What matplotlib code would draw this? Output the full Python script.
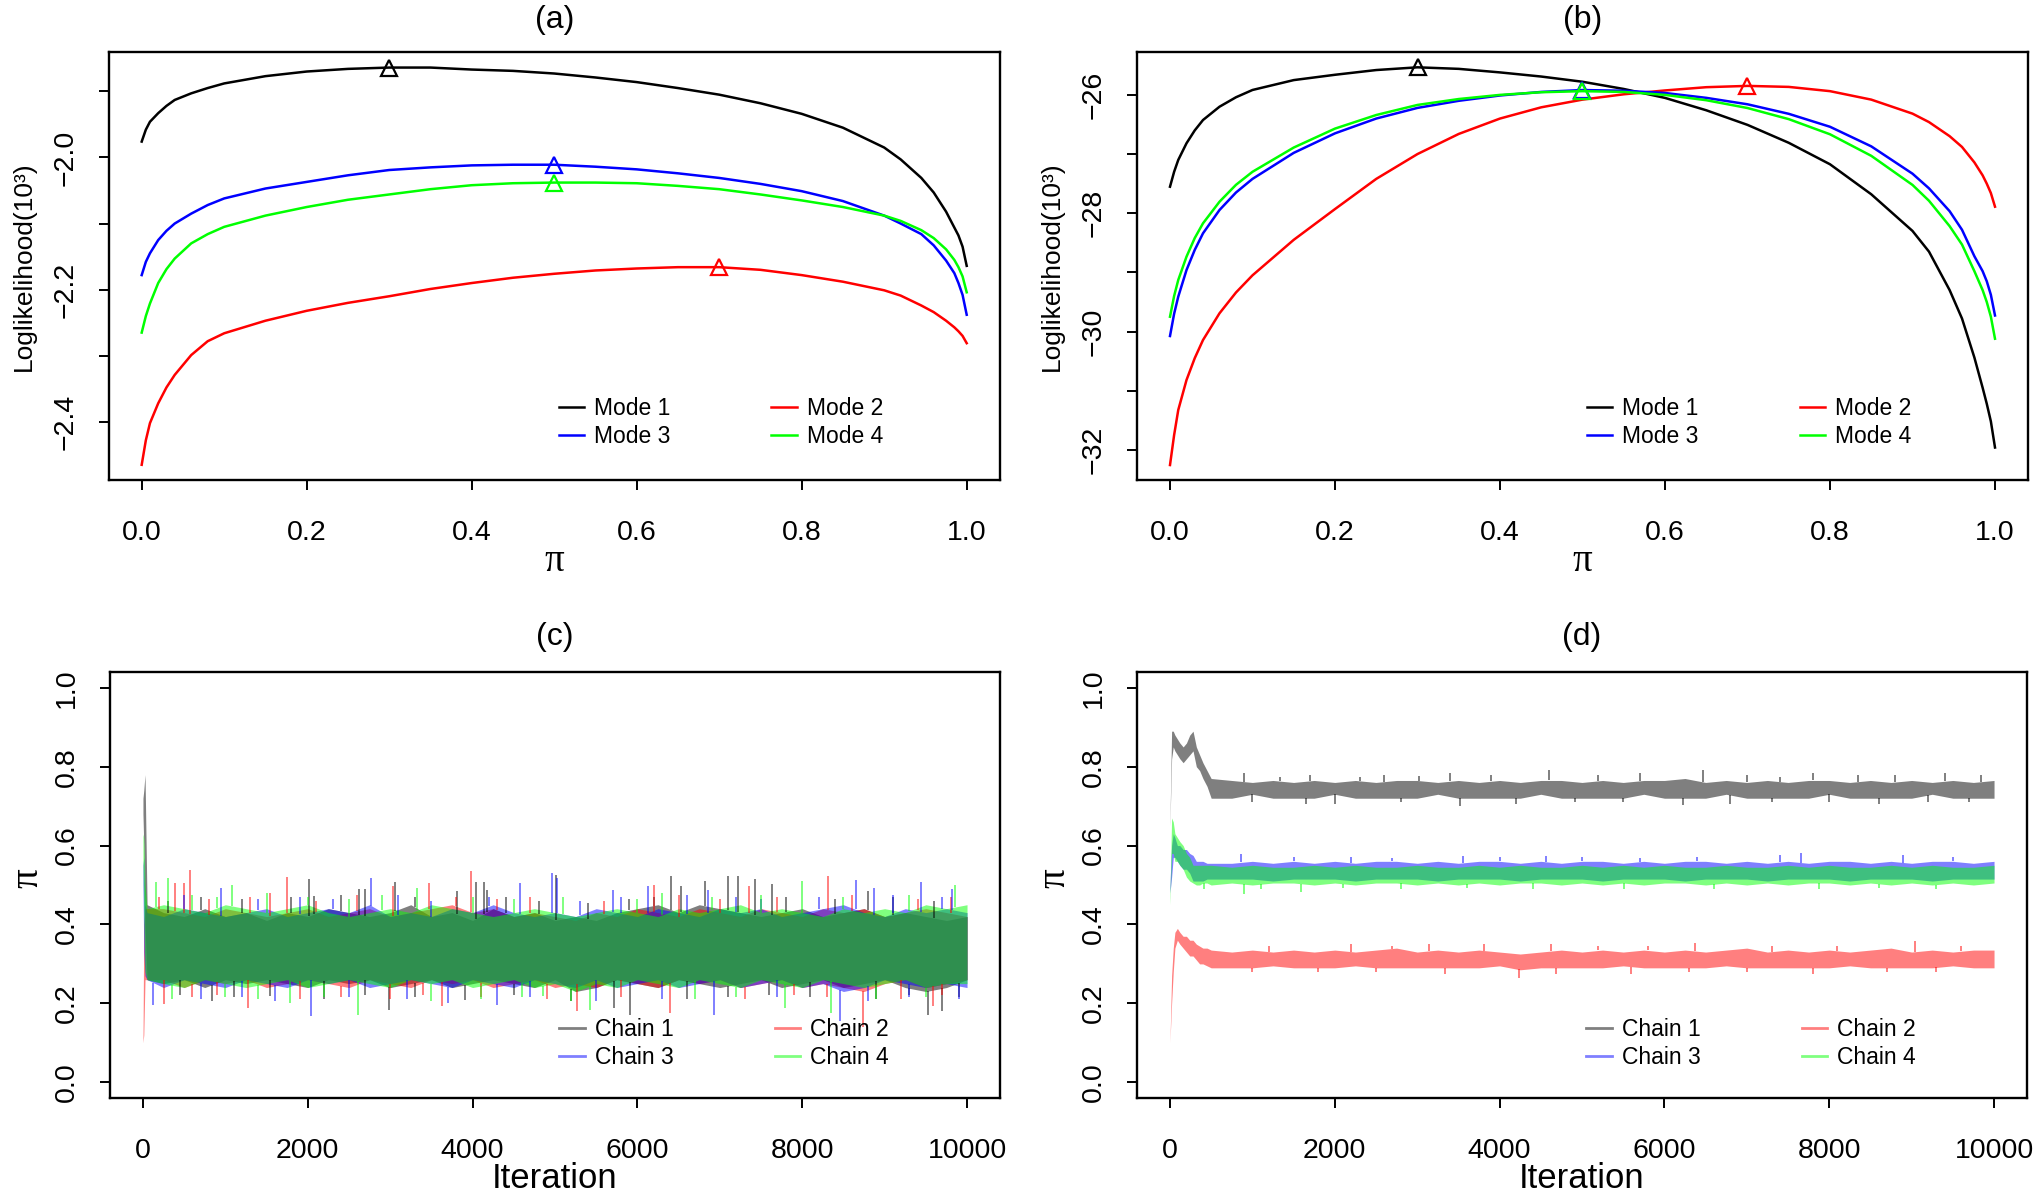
import numpy as np
import matplotlib
matplotlib.use('Agg')
import matplotlib.pyplot as plt
from matplotlib.lines import Line2D

plt.rcParams['font.family'] = ['Liberation Sans', 'DejaVu Sans']

# ---------------- (a) / (b): loglikelihood profiles (x 10^3) ----------------
pi_grid = [0.0, 0.005, 0.01, 0.02, 0.03, 0.04, 0.06, 0.08, 0.1, 0.15, 0.2,
           0.25, 0.3, 0.35, 0.4, 0.45, 0.5, 0.55, 0.6, 0.65, 0.7, 0.75,
           0.8, 0.85, 0.9, 0.92, 0.945, 0.96, 0.975, 0.985, 0.99, 0.995, 1.0]

a_mode1 = [-1.976, -1.958, -1.946, -1.933, -1.922, -1.913, -1.903, -1.895, -1.888, -1.877, -1.870,
           -1.866, -1.864, -1.864, -1.867, -1.869, -1.873, -1.879, -1.886, -1.895, -1.905, -1.918,
           -1.934, -1.955, -1.985, -2.003, -2.031, -2.053, -2.082, -2.106, -2.118, -2.135, -2.164]
a_mode2 = [-2.465, -2.428, -2.402, -2.372, -2.348, -2.329, -2.299, -2.278, -2.266, -2.247, -2.232,
           -2.220, -2.210, -2.199, -2.190, -2.182, -2.176, -2.171, -2.168, -2.166, -2.166, -2.170,
           -2.178, -2.188, -2.201, -2.209, -2.224, -2.234, -2.247, -2.257, -2.263, -2.270, -2.281]
a_mode3 = [-2.178, -2.158, -2.145, -2.125, -2.111, -2.100, -2.085, -2.072, -2.062, -2.047, -2.037,
           -2.027, -2.019, -2.015, -2.012, -2.011, -2.011, -2.014, -2.018, -2.024, -2.031, -2.040,
           -2.051, -2.066, -2.088, -2.100, -2.116, -2.133, -2.156, -2.175, -2.190, -2.208, -2.238]
a_mode4 = [-2.265, -2.240, -2.221, -2.190, -2.169, -2.153, -2.130, -2.116, -2.105, -2.088, -2.075,
           -2.064, -2.056, -2.048, -2.042, -2.039, -2.038, -2.038, -2.039, -2.043, -2.048, -2.056,
           -2.065, -2.075, -2.088, -2.096, -2.110, -2.122, -2.139, -2.155, -2.166, -2.180, -2.204]

b_mode1 = [-27.552, -27.30, -27.100, -26.818, -26.60, -26.425, -26.200, -26.04, -25.917, -25.75, -25.660,
           -25.58, -25.534, -25.56, -25.620, -25.69, -25.778, -25.90, -26.051, -26.26, -26.507, -26.81,
           -27.173, -27.68, -28.300, -28.65, -29.300, -29.78, -30.439, -30.95, -31.22, -31.52, -31.961]
b_mode2 = [-32.257, -31.75, -31.327, -30.820, -30.45, -30.144, -29.692, -29.34, -29.05, -28.45, -27.93,
           -27.42, -27.00, -26.66, -26.40, -26.21, -26.08, -25.99, -25.925, -25.87, -25.848, -25.865,
           -25.937, -26.08, -26.317, -26.46, -26.698, -26.88, -27.141, -27.36, -27.50, -27.66, -27.890]
b_mode3 = [-30.076, -29.70, -29.411, -28.961, -28.62, -28.340, -27.946, -27.65, -27.42, -26.98, -26.65,
           -26.40, -26.22, -26.10, -26.01, -25.95, -25.918, -25.93, -25.968, -26.05, -26.159, -26.32,
           -26.539, -26.87, -27.332, -27.58, -27.966, -28.28, -28.727, -28.98, -29.15, -29.38, -29.729]
b_mode4 = [-29.750, -29.40, -29.129, -28.735, -28.42, -28.171, -27.806, -27.52, -27.30, -26.89, -26.57,
           -26.34, -26.17, -26.07, -26.00, -25.955, -25.937, -25.95, -26.000, -26.09, -26.222, -26.41,
           -26.666, -27.03, -27.522, -27.79, -28.219, -28.53, -28.980, -29.30, -29.50, -29.75, -30.122]

mode_peak = [0.3, 0.7, 0.5, 0.5]
mode_labels = ['Mode 1', 'Mode 2', 'Mode 3', 'Mode 4']
mode_cols = ['black', '#FF0000', '#0000FF', '#00FF00']

# ---------------- (c) / (d): MCMC traces, dense band low/high per chain ----------------
it_c = [0, 10, 25, 50] + list(range(250, 10001, 250))

c1_lo = [0.68, 0.60, 0.40, 0.26,
         0.25, 0.26, 0.24, 0.26, 0.25, 0.26, 0.25, 0.24, 0.26, 0.25,
         0.26, 0.24, 0.25, 0.26, 0.24, 0.25, 0.26, 0.25, 0.24, 0.26,
         0.23, 0.24, 0.26, 0.25, 0.24, 0.26, 0.25, 0.24, 0.25, 0.26,
         0.24, 0.25, 0.26, 0.24, 0.25, 0.26, 0.24, 0.23, 0.24, 0.26]
c1_hi = [0.72, 0.74, 0.78, 0.45,
         0.43, 0.42, 0.44, 0.42, 0.43, 0.41, 0.43, 0.42, 0.44, 0.43,
         0.42, 0.43, 0.45, 0.42, 0.43, 0.41, 0.44, 0.42, 0.43, 0.41,
         0.42, 0.41, 0.43, 0.44, 0.45, 0.43, 0.45, 0.44, 0.43, 0.42,
         0.43, 0.44, 0.42, 0.43, 0.44, 0.42, 0.43, 0.42, 0.41, 0.42]
c2_lo = [0.10, 0.12, 0.26, 0.26,
         0.26, 0.24, 0.26, 0.25, 0.26, 0.24, 0.25, 0.26, 0.25, 0.24,
         0.26, 0.25, 0.24, 0.26, 0.25, 0.26, 0.24, 0.25, 0.26, 0.24,
         0.25, 0.24, 0.26, 0.25, 0.24, 0.26, 0.25, 0.26, 0.24, 0.25,
         0.26, 0.24, 0.25, 0.24, 0.23, 0.25, 0.26, 0.24, 0.25, 0.26]
c2_hi = [0.10, 0.40, 0.44, 0.44,
         0.44, 0.43, 0.42, 0.44, 0.43, 0.42, 0.43, 0.44, 0.42, 0.43,
         0.44, 0.42, 0.43, 0.44, 0.45, 0.43, 0.44, 0.42, 0.43, 0.42,
         0.41, 0.43, 0.42, 0.44, 0.43, 0.42, 0.44, 0.43, 0.42, 0.44,
         0.43, 0.42, 0.44, 0.43, 0.44, 0.42, 0.43, 0.44, 0.43, 0.42]
c3_lo = [0.50, 0.33, 0.27, 0.26,
         0.24, 0.26, 0.25, 0.24, 0.26, 0.25, 0.24, 0.26, 0.25, 0.26,
         0.24, 0.25, 0.26, 0.25, 0.24, 0.26, 0.25, 0.24, 0.26, 0.25,
         0.24, 0.26, 0.24, 0.25, 0.26, 0.24, 0.25, 0.26, 0.24, 0.25,
         0.26, 0.24, 0.25, 0.23, 0.24, 0.26, 0.25, 0.24, 0.25, 0.24]
c3_hi = [0.55, 0.57, 0.45, 0.43,
         0.42, 0.44, 0.43, 0.42, 0.43, 0.44, 0.42, 0.43, 0.44, 0.43,
         0.45, 0.42, 0.43, 0.42, 0.44, 0.43, 0.45, 0.43, 0.42, 0.43,
         0.42, 0.44, 0.43, 0.42, 0.44, 0.43, 0.42, 0.44, 0.43, 0.44,
         0.42, 0.43, 0.44, 0.45, 0.43, 0.42, 0.44, 0.43, 0.44, 0.43]
c4_lo = [0.55, 0.42, 0.28, 0.26,
         0.25, 0.24, 0.26, 0.25, 0.24, 0.25, 0.26, 0.24, 0.25, 0.26,
         0.25, 0.24, 0.26, 0.25, 0.26, 0.24, 0.25, 0.26, 0.24, 0.25,
         0.23, 0.25, 0.24, 0.26, 0.25, 0.24, 0.26, 0.25, 0.24, 0.26,
         0.25, 0.24, 0.26, 0.25, 0.24, 0.25, 0.26, 0.24, 0.25, 0.25]
c4_hi = [0.63, 0.62, 0.50, 0.44,
         0.45, 0.44, 0.43, 0.45, 0.44, 0.43, 0.44, 0.45, 0.43, 0.42,
         0.43, 0.44, 0.43, 0.45, 0.44, 0.43, 0.42, 0.43, 0.44, 0.43,
         0.42, 0.43, 0.44, 0.43, 0.42, 0.44, 0.43, 0.44, 0.45, 0.43,
         0.44, 0.43, 0.42, 0.44, 0.43, 0.44, 0.43, 0.45, 0.44, 0.45]

# single-iteration excursions beyond the dense band (iteration, value), panel (c)
c1_spk_it = [2015, 2080, 2626, 2700, 3058, 3807, 4036, 4137, 4178, 5012, 6408, 6529, 6820,
             7096, 7217, 7427, 7630, 8795, 300, 700, 1200, 1800, 2400, 3300, 4400, 4800,
             5400, 5900, 6200, 7800, 8400, 9100, 9600,
             833, 1541, 2990, 3908, 5720, 5910, 9531, 9693, 450, 1100, 2200, 2700, 3300,
             4500, 5200, 6600, 7100, 7600, 8100, 8900, 9300, 9900]
c1_spk_v = [0.514, 0.473, 0.49, 0.49, 0.507, 0.484, 0.507, 0.507, 0.488, 0.526, 0.524, 0.497, 0.509,
            0.524, 0.524, 0.515, 0.503, 0.484, 0.46, 0.47, 0.465, 0.47, 0.475, 0.47, 0.47, 0.46,
            0.455, 0.465, 0.47, 0.47, 0.465, 0.47, 0.46,
            0.205, 0.218, 0.184, 0.209, 0.188, 0.171, 0.171, 0.180, 0.22, 0.215, 0.21, 0.22, 0.215,
            0.22, 0.205, 0.21, 0.215, 0.22, 0.215, 0.21, 0.22, 0.215]
c2_spk_it = [390, 500, 570, 1541, 1750, 3038, 3475, 3980, 6206, 7354, 8317, 200, 800, 1300,
             2100, 2600, 3800, 4300, 4700, 5600, 6500, 7000, 7700, 8600, 9400, 9800,
             259, 1270, 3625, 5263, 6396, 8742, 9590, 600, 900, 1900, 2400, 3000, 3400,
             4100, 4900, 5800, 7300, 7900, 8300, 9200, 9700]
c2_spk_v = [0.505, 0.505, 0.537, 0.48, 0.52, 0.497, 0.505, 0.535, 0.501, 0.497, 0.522, 0.47, 0.465, 0.47,
            0.46, 0.475, 0.47, 0.465, 0.47, 0.46, 0.475, 0.465, 0.47, 0.475, 0.465, 0.47,
            0.199, 0.188, 0.192, 0.180, 0.175, 0.141, 0.192, 0.215, 0.22, 0.21, 0.215, 0.21, 0.22,
            0.215, 0.21, 0.215, 0.21, 0.22, 0.215, 0.21, 0.22]
c3_spk_it = [943, 2767, 4574, 4958, 5020, 5708, 6125, 6853, 8649, 8876, 9438, 9822, 500, 1400,
             1900, 2300, 3100, 3500, 4200, 5300, 5800, 6600, 7200, 7500, 8200, 9100, 9700,
             126, 2039, 4291, 6934, 8458, 700, 1200, 1600, 2500, 3200, 3700, 4700, 5500,
             6300, 7700, 8800, 9300, 9900]
c3_spk_v = [0.493, 0.518, 0.505, 0.53, 0.518, 0.488, 0.497, 0.488, 0.512, 0.493, 0.507, 0.49, 0.475, 0.465,
            0.47, 0.465, 0.475, 0.46, 0.47, 0.46, 0.47, 0.475, 0.47, 0.465, 0.47, 0.475, 0.47,
            0.196, 0.167, 0.196, 0.171, 0.154, 0.21, 0.215, 0.205, 0.215, 0.21, 0.2, 0.215, 0.205,
            0.21, 0.215, 0.205, 0.215, 0.21]
c4_spk_it = [154, 307, 1076, 3320, 8002, 9855, 600, 900, 1500, 2000, 2500, 2900, 4000, 4500,
             5100, 6000, 6300, 6900, 7500, 8500, 9300,
             1784, 2605, 4859, 5425, 7791, 8350, 350, 1000, 1400, 2200, 3500, 4100, 4600,
             5200, 6700, 7200, 8900, 9500]
c4_spk_v = [0.507, 0.518, 0.501, 0.493, 0.509, 0.501, 0.475, 0.47, 0.48, 0.47, 0.465, 0.475, 0.47, 0.465,
            0.47, 0.465, 0.48, 0.47, 0.475, 0.47, 0.475,
            0.200, 0.171, 0.218, 0.184, 0.188, 0.175, 0.21, 0.215, 0.21, 0.215, 0.205, 0.21, 0.215,
            0.205, 0.21, 0.215, 0.21, 0.215]

it_d = [0, 20, 40, 60, 90, 120, 160, 200, 240, 280, 320, 360, 400, 450, 500] + list(range(750, 10001, 250))

d1_lo = [0.65, 0.82, 0.85, 0.84, 0.83, 0.82, 0.81, 0.82, 0.83, 0.84, 0.80, 0.79, 0.77, 0.75, 0.72,
         0.72, 0.73, 0.72, 0.72, 0.72, 0.73, 0.72, 0.72, 0.72, 0.72,
         0.73, 0.72, 0.72, 0.72, 0.72, 0.73, 0.72, 0.72, 0.72, 0.72,
         0.73, 0.72, 0.72, 0.72, 0.73, 0.72, 0.72, 0.72, 0.72, 0.73,
         0.72, 0.72, 0.72, 0.72, 0.73, 0.72, 0.72, 0.72]
d1_hi = [0.66, 0.89, 0.89, 0.88, 0.87, 0.86, 0.85, 0.86, 0.88, 0.89, 0.85, 0.83, 0.81, 0.79, 0.77,
         0.765, 0.76, 0.765, 0.76, 0.765, 0.76, 0.765, 0.76, 0.765, 0.765,
         0.76, 0.765, 0.76, 0.765, 0.76, 0.765, 0.765, 0.76, 0.765, 0.76,
         0.765, 0.765, 0.77, 0.76, 0.765, 0.76, 0.765, 0.76, 0.765, 0.765,
         0.76, 0.765, 0.76, 0.765, 0.76, 0.765, 0.76, 0.765]
d2_lo = [0.10, 0.20, 0.28, 0.34, 0.36, 0.35, 0.34, 0.33, 0.32, 0.32, 0.31, 0.30, 0.30, 0.295, 0.29,
         0.29, 0.29, 0.295, 0.29, 0.29, 0.29, 0.295, 0.29, 0.29, 0.29,
         0.29, 0.29, 0.29, 0.295, 0.285, 0.29, 0.29, 0.29, 0.29, 0.295,
         0.29, 0.29, 0.29, 0.29, 0.295, 0.29, 0.29, 0.29, 0.29, 0.29,
         0.295, 0.29, 0.29, 0.29, 0.29, 0.295, 0.29, 0.29]
d2_hi = [0.10, 0.27, 0.34, 0.38, 0.39, 0.38, 0.37, 0.37, 0.36, 0.36, 0.35, 0.345, 0.34, 0.34, 0.335,
         0.33, 0.335, 0.33, 0.335, 0.33, 0.335, 0.33, 0.335, 0.34, 0.33,
         0.335, 0.33, 0.335, 0.33, 0.325, 0.33, 0.335, 0.33, 0.335, 0.33,
         0.335, 0.33, 0.335, 0.33, 0.335, 0.34, 0.33, 0.335, 0.33, 0.335,
         0.33, 0.335, 0.34, 0.33, 0.335, 0.33, 0.335, 0.335]
d3_lo = [0.48, 0.52, 0.57, 0.57, 0.56, 0.55, 0.54, 0.54, 0.53, 0.51, 0.51, 0.51, 0.51, 0.515, 0.515,
         0.515, 0.515, 0.51, 0.515, 0.515, 0.515, 0.51, 0.515, 0.515, 0.515,
         0.51, 0.515, 0.515, 0.515, 0.51, 0.515, 0.515, 0.515, 0.51, 0.515,
         0.515, 0.515, 0.51, 0.515, 0.515, 0.515, 0.51, 0.515, 0.515, 0.515,
         0.51, 0.515, 0.515, 0.515, 0.51, 0.515, 0.515, 0.515]
d3_hi = [0.50, 0.60, 0.63, 0.62, 0.60, 0.60, 0.59, 0.59, 0.58, 0.575, 0.56, 0.56, 0.56, 0.555, 0.555,
         0.555, 0.56, 0.555, 0.56, 0.555, 0.56, 0.555, 0.56, 0.56, 0.555,
         0.56, 0.555, 0.56, 0.56, 0.555, 0.56, 0.555, 0.56, 0.56, 0.555,
         0.56, 0.555, 0.56, 0.56, 0.555, 0.56, 0.555, 0.56, 0.555, 0.56,
         0.56, 0.555, 0.56, 0.555, 0.56, 0.56, 0.555, 0.56]
d4_lo = [0.45, 0.58, 0.58, 0.56, 0.56, 0.55, 0.54, 0.52, 0.51, 0.505, 0.50, 0.50, 0.505, 0.505, 0.50,
         0.505, 0.50, 0.505, 0.505, 0.50, 0.505, 0.50, 0.505, 0.505, 0.50,
         0.505, 0.50, 0.505, 0.50, 0.505, 0.505, 0.50, 0.505, 0.50, 0.505,
         0.50, 0.505, 0.505, 0.50, 0.505, 0.50, 0.505, 0.50, 0.505, 0.505,
         0.50, 0.505, 0.50, 0.505, 0.50, 0.505, 0.50, 0.505]
d4_hi = [0.47, 0.67, 0.66, 0.63, 0.62, 0.61, 0.60, 0.58, 0.57, 0.55, 0.55, 0.55, 0.55, 0.55, 0.55,
         0.545, 0.55, 0.545, 0.545, 0.55, 0.545, 0.55, 0.545, 0.545, 0.55,
         0.545, 0.545, 0.55, 0.545, 0.55, 0.545, 0.545, 0.55, 0.545, 0.55,
         0.545, 0.55, 0.545, 0.545, 0.55, 0.545, 0.545, 0.55, 0.545, 0.55,
         0.545, 0.545, 0.55, 0.545, 0.55, 0.545, 0.545, 0.55]

d1_spk_it = [1330, 2300, 3025, 4600, 6470, 7400, 8345, 9840, 900, 1700, 2600, 3400, 3900, 5200,
             5700, 7000, 7800, 8800, 9400,
             1650, 3515, 4920, 6220, 8000, 1000, 2000, 2800, 4200, 5500, 6800, 7300, 8600, 9200, 9700]
d1_spk_v = [0.775, 0.775, 0.777, 0.792, 0.792, 0.775, 0.78, 0.78, 0.785, 0.78, 0.78, 0.785, 0.78, 0.78,
            0.785, 0.78, 0.785, 0.78, 0.785,
            0.705, 0.70, 0.71, 0.703, 0.71, 0.71, 0.705, 0.71, 0.705, 0.71, 0.705, 0.71, 0.705, 0.71, 0.71]
d2_spk_it = [2200, 3145, 3815, 4625, 6375, 9040, 1200, 2700, 5200, 5800, 7300, 8100, 9600,
             3340, 4230, 4680, 6300, 8700, 1000, 1800, 2500, 5600, 7000, 7800, 9300]
d2_spk_v = [0.35, 0.35, 0.35, 0.35, 0.354, 0.357, 0.345, 0.345, 0.345, 0.345, 0.345, 0.345, 0.345,
            0.275, 0.264, 0.275, 0.28, 0.28, 0.28, 0.28, 0.28, 0.275, 0.28, 0.275, 0.28]
d3_spk_it = [860, 3560, 4560, 7400, 7660, 8900, 1500, 2200, 2700, 4000, 5000, 5700, 6400, 9500]
d3_spk_v = [0.578, 0.573, 0.573, 0.576, 0.58, 0.576, 0.57, 0.57, 0.568, 0.57, 0.57, 0.568, 0.57, 0.57]
d4_spk_it = [410, 900, 1590, 5510, 7870, 1100, 2100, 2800, 3600, 4400, 6600, 8600, 9300]
d4_spk_v = [0.49, 0.477, 0.482, 0.49, 0.49, 0.49, 0.492, 0.49, 0.492, 0.49, 0.49, 0.492, 0.49]

chain_labels = ['Chain 1', 'Chain 2', 'Chain 3', 'Chain 4']
chain_cols = ['black', '#FF0000', '#0000FF', '#00FF00']

# ---------------- figure ----------------
W, H = 2040, 1198
fig = plt.figure(figsize=(W / 100, H / 100), dpi=100)

ax_a = fig.add_axes([108.7 / W, 1 - 480 / H, 891 / W, 428.3 / H])
ax_b = fig.add_axes([1137 / W, 1 - 480 / H, 891 / W, 428.3 / H])
ax_c = fig.add_axes([110 / W, 1 - 1098 / H, 890 / W, 426 / H])
ax_d = fig.add_axes([1137 / W, 1 - 1098 / H, 890 / W, 426 / H])


def frame(ax, title, title_y):
    for s in ax.spines.values():
        s.set_linewidth(1.7)
    ax.tick_params(direction='out', length=7, width=1.4, labelsize=20.5)
    ax.tick_params(axis='x', pad=22)
    ax.tick_params(axis='y', pad=15)
    ax.text(0.5, title_y, title, transform=ax.transAxes, ha='center', va='center', fontsize=23)


def legend(ax, handles, labels, y0):
    ax.legend(handles, labels, ncol=2, frameon=False, fontsize=16.5, loc='lower left',
              bbox_to_anchor=(0.505, y0), borderpad=0, borderaxespad=0,
              handlelength=1.1, handletextpad=0.45, columnspacing=4.4, labelspacing=0.2)


# loglikelihood panels
for ax, curves, title, ylim, yt, ylab in [
        (ax_a, [a_mode1, a_mode2, a_mode3, a_mode4], '(a)', (-2.488, -1.840),
         [-2.4, -2.3, -2.2, -2.1, -2.0, -1.9], ['\u22122.4', '', '\u22122.2', '', '\u22122.0', '']),
        (ax_b, [b_mode1, b_mode2, b_mode3, b_mode4], '(b)', (-32.51, -25.27),
         [-32, -31, -30, -29, -28, -27, -26], ['\u221232', '', '\u221230', '', '\u221228', '', '\u221226'])]:
    handles = []
    for k in range(4):
        h, = ax.plot(pi_grid, curves[k], color=mode_cols[k], lw=1.8)
        handles.append(h)
        j = pi_grid.index(mode_peak[k])
        ax.plot([mode_peak[k]], [curves[k][j]], marker='^', ms=12, mfc='none',
                mec=mode_cols[k], mew=1.6)
    ax.set_xlim(-0.04, 1.04)
    ax.set_ylim(*ylim)
    ax.set_xticks([0.0, 0.2, 0.4, 0.6, 0.8, 1.0])
    ax.set_xticklabels(['0.0', '0.2', '0.4', '0.6', '0.8', '1.0'])
    ax.set_yticks(yt)
    ax.set_yticklabels(ylab, rotation=90, va='center')
    frame(ax, title, 1 + 31.7 / 428.3)
    ax.text(0.5, -0.19, '\u03c0', transform=ax.transAxes, ha='center', va='center',
            fontsize=28, family='Liberation Serif')
    ax.text(-0.095, 0.5, 'Loglikelihood(10\u00b3)', transform=ax.transAxes, ha='center',
            va='center', rotation=90, fontsize=19)
    order = [0, 2, 1, 3]
    legend(ax, [handles[i] for i in order], [mode_labels[i] for i in order], 0.075)


# trace panels
def trace(ax, it, lows, highs, spk_its, spk_vs, title):
    for k in range(4):
        lo = np.array(lows[k])
        hi = np.array(highs[k])
        ax.fill_between(it, lo, hi, color=chain_cols[k], alpha=0.5, lw=0)
        s_it = np.array(spk_its[k])
        s_v = np.array(spk_vs[k])
        mid = np.interp(s_it, it, (lo + hi) / 2)
        base = np.where(s_v > mid, np.interp(s_it, it, hi), np.interp(s_it, it, lo))
        ax.vlines(s_it, base, s_v, colors=chain_cols[k], alpha=0.5, lw=1.4)
    ax.set_xlim(-400, 10400)
    ax.set_ylim(-0.04, 1.04)
    ax.set_xticks([0, 2000, 4000, 6000, 8000, 10000])
    ax.set_xticklabels(['0', '2000', '4000', '6000', '8000', '10000'])
    ax.set_yticks([0.0, 0.2, 0.4, 0.6, 0.8, 1.0])
    ax.set_yticklabels(['0.0', '0.2', '0.4', '0.6', '0.8', '1.0'], rotation=90, va='center')
    frame(ax, title, 1 + 34.5 / 426)
    ax.text(0.5, -0.19, 'Iteration', transform=ax.transAxes, ha='center', va='center', fontsize=25)
    ax.text(-0.092, 0.516, '\u03c0', transform=ax.transAxes, ha='center', va='center',
            rotation=90, fontsize=28, family='Liberation Serif')
    hs = [Line2D([], [], color=c, alpha=0.5, lw=2) for c in chain_cols]
    order = [0, 2, 1, 3]
    legend(ax, [hs[i] for i in order], [chain_labels[i] for i in order], 0.068)


trace(ax_c, it_c, [c1_lo, c2_lo, c3_lo, c4_lo], [c1_hi, c2_hi, c3_hi, c4_hi],
      [c1_spk_it, c2_spk_it, c3_spk_it, c4_spk_it], [c1_spk_v, c2_spk_v, c3_spk_v, c4_spk_v], '(c)')
trace(ax_d, it_d, [d1_lo, d2_lo, d3_lo, d4_lo], [d1_hi, d2_hi, d3_hi, d4_hi],
      [d1_spk_it, d2_spk_it, d3_spk_it, d4_spk_it], [d1_spk_v, d2_spk_v, d3_spk_v, d4_spk_v], '(d)')

fig.savefig('out.png', dpi=100)
